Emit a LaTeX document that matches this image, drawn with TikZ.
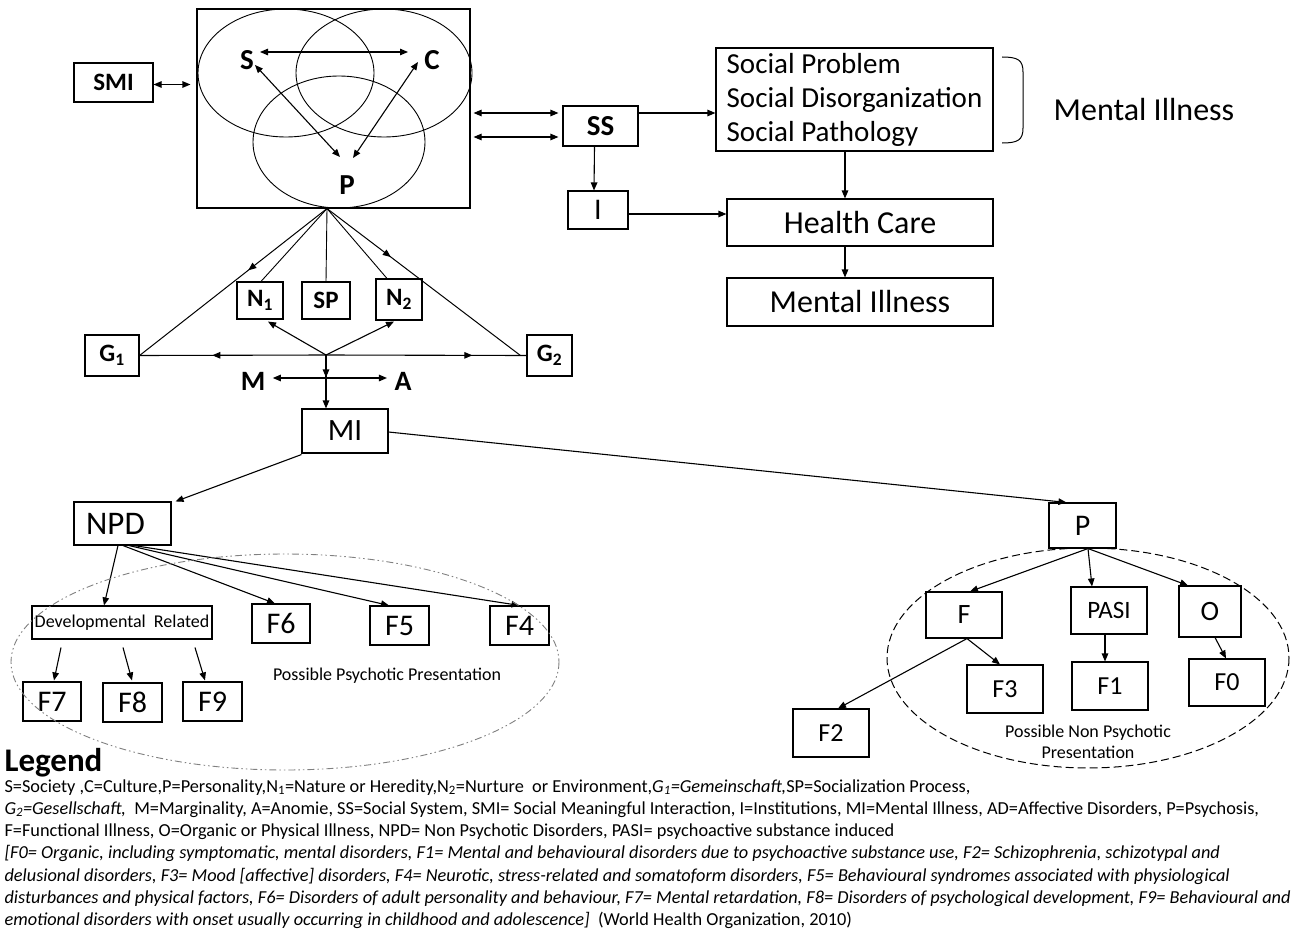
\documentclass[tikz,border=0pt]{standalone}
\usepackage{fontspec}
\setmainfont{Carlito}
\usetikzlibrary{arrows.meta,calc,decorations.markings}
\newcommand{\setfs}[2]{\fontsize{#1pt}{#2pt}\selectfont}
\begin{document}
\begin{tikzpicture}[x=1pt,y=-1pt,line width=1.1pt,
  box/.style={draw,line width=1.1pt,inner sep=0pt,align=center},
  lbl/.style={inner sep=0pt},
  arr/.style={-{Triangle[length=8pt,width=6.5pt]}},
  darr/.style={{Triangle[length=8pt,width=6.5pt]}-{Triangle[length=8pt,width=6.5pt]}},
  midarr/.style={postaction={decorate},decoration={markings,mark=at position #1 with {\arrow{Triangle[length=8pt,width=6.5pt]}}}},
  legline/.style={anchor=base west,inner sep=0pt,font=\setfs{18.3}{21}}]
\useasboundingbox (0,0) rectangle (1292,931);
\fill[white] (0,0) rectangle (1292,931);

% ---------- top-left Venn box ----------
\node[box,minimum width=273pt,minimum height=199pt] (big) at (333.5,108.5) {};
\draw[line width=0.9pt] (286,73) ellipse [x radius=88,y radius=64];
\draw[line width=0.9pt] (384,73) ellipse [x radius=88,y radius=64];
\draw[line width=0.9pt] (339,142) ellipse [x radius=86,y radius=66];
\node[lbl,font=\setfs{29}{32}\bfseries] (S) at (247,60) {S};
\node[lbl,font=\setfs{29}{32}\bfseries] (C) at (432,60) {C};
\node[lbl,font=\setfs{29}{32}\bfseries] (Pv) at (347,185) {P};
\draw[darr] ($(S)+(13,-8)$) -- ($(C)+(-24,-8)$);
\draw[darr] ($(S)+(8,5)$) -- ($(Pv)+(-7,-28)$);
\draw[darr] ($(C)+(-14,2)$) -- ($(Pv)+(6,-27)$);

\node[box,minimum width=79pt,minimum height=39pt,font=\setfs{25}{28}\bfseries] (SMI) at (113.5,82.5) {SMI};
\draw[darr] ($(SMI.east)+(0,2)$) -- ($(big.west|-SMI.east)+(-6,2)$);

% ---------- social system chain ----------
\node[box,minimum width=75pt,minimum height=40pt,font=\setfs{29}{32}\bfseries] (SS) at (600.5,126) {SS};
\draw[darr] ($(big.east|-SS.west)+(3,-13)$) -- ($(SS.west)+(-4,-13)$);
\draw[darr] ($(big.east|-SS.west)+(3,11)$) -- ($(SS.west)+(-4,11)$);
\node[box,minimum width=60pt,minimum height=38pt,font=\setfs{30}{34}] (I) at (598,210) {I};
\draw[arr] ($(SS.south)+(-6,0)$) -- ($(I.north)+(-4,0)$);

\node[box,minimum width=277pt,minimum height=103pt,align=left,font=\setfs{29}{34}] (soc) at (854.5,99.5) {Social Problem\\Social Disorganization\\Social Pathology};
\draw[arr] ($(SS.east)+(0,-13)$) -- ($(soc.west|-SS.east)+(0,-13)$);
\node[box,minimum width=266pt,minimum height=47pt,font=\setfs{32}{36}] (hc) at (860,222.5) {Health Care};
\node[box,minimum width=266pt,minimum height=48pt,font=\setfs{32}{36}] (mib) at (860,302) {Mental Illness};
\draw[arr] ($(soc.south)+(-9.5,0)$) -- ($(hc.north)+(-15,0)$);
\draw[arr] ($(hc.south)+(-15,0)$) -- ($(mib.north)+(-15,0)$);
\draw[arr] ($(I.east)+(0,4)$) -- ($(hc.west|-I.east)+(0,4)$);

\node[lbl,font=\setfs{32}{36}] (mir) at (1144,110) {Mental Illness};
\draw[line width=1pt] (1002,57) .. controls (1018,57) and (1023,60) .. (1023,72) -- (1023,128) .. controls (1023,140) and (1018,143) .. (1002,143);

% ---------- middle part ----------
\coordinate (apex) at ($(big.south)+(-6.5,0)$);
\node[box,minimum width=54pt,minimum height=41pt,font=\setfs{25}{28}\bfseries] (G1) at (112,355.5) {G\textsubscript{1}};
\node[box,minimum width=45pt,minimum height=41pt,font=\setfs{25}{28}\bfseries] (G2) at (549.5,355.5) {G\textsubscript{2}};
\node[box,minimum width=46pt,minimum height=37pt,font=\setfs{25}{28}\bfseries] (N1) at (260,300.5) {N\textsubscript{1}};
\node[box,minimum width=48pt,minimum height=37pt,font=\setfs{25}{28}\bfseries] (SP) at (326,300.5) {SP};
\node[box,minimum width=46pt,minimum height=41pt,font=\setfs{25}{28}\bfseries] (N2) at (399,299.5) {N\textsubscript{2}};
\coordinate (hub) at (326,355);

\draw[line width=1pt,midarr=0.42] (apex) -- (G1.east);
\draw[line width=1pt,midarr=0.33] (apex) -- ($(G2.west)+(-6,0)$);
\draw[line width=0.9pt] (apex) -- ($(N1.north)+(1,0)$);
\draw[line width=0.9pt] (apex) -- (SP.north);
\draw[line width=0.9pt] (apex) -- ($(N2.north)+(-12,0)$);
\draw[midarr=0.61] (hub) -- (G1.east);
\draw[midarr=0.73] (hub) -- (G2.west);
\draw[arr] (hub) -- ($(N1.south)+(8,2)$);
\draw[arr] (hub) -- ($(N2.south)+(-5,1)$);
\node[lbl,font=\setfs{28}{30}\bfseries] (M) at (253,381) {M};
\node[lbl,font=\setfs{28}{30}\bfseries] (A) at (403,381) {A};
\draw[darr] ($(M.east)+(7,-3)$) -- ($(A.west)+(-7,-3)$);

\node[box,minimum width=86pt,minimum height=44pt,font=\setfs{31}{34}] (MI) at (345,431) {MI};
\draw[arr,midarr=0.42] (hub) -- (hub|-MI.north);

% ---------- bottom left: NPD ----------
\node[box,minimum width=97pt,minimum height=43pt,font=\setfs{33}{36}] (NPD) at (122.5,523.5) {NPD\hspace{14pt}};
\draw[arr] ($(MI.south west)+(0,1)$) -- ($(NPD.north east)+(4,0)$);
\node[box,minimum width=180pt,minimum height=33pt,font=\setfs{18}{20}] (dev) at (122,622.5) {Developmental\ \ Related};
\node[box,minimum width=58pt,minimum height=39pt,font=\setfs{30}{34}] (F6) at (281,623.5) {F6};
\node[box,minimum width=59pt,minimum height=39pt,font=\setfs{30}{34}] (F5) at (399.5,625.5) {F5};
\node[box,minimum width=59pt,minimum height=39pt,font=\setfs{30}{34}] (F4) at (519.5,625.5) {F4};
\node[box,minimum width=58pt,minimum height=39pt,font=\setfs{30}{34}] (F7) at (52,701.5) {F7};
\node[box,minimum width=59pt,minimum height=39pt,font=\setfs{30}{34}] (F8) at (132.5,702.5) {F8};
\node[box,minimum width=59pt,minimum height=39pt,font=\setfs{30}{34}] (F9) at (212.5,701.5) {F9};
\draw[arr] ($(NPD.south)+(-4.5,0)$) -- ($(dev.north)+(-18,0)$);
\draw[arr] ($(NPD.south)+(0.5,0)$) -- ($(F6.north)+(-6,0)$);
\draw[arr] ($(NPD.south)+(6.5,0)$) -- ($(F5.north)+(-10.5,0)$);
\draw[arr] ($(NPD.south)+(11.5,0)$) -- (F4.north);
\draw[arr] ($(dev.south)+(-61,8)$) -- ($(F7.north)+(2,-1)$);
\draw[arr] ($(dev.south)+(1,8)$) -- ($(F8.north)+(-0.5,-2)$);
\draw[arr] ($(dev.south)+(73,8)$) -- ($(F9.north)+(-7.5,-1)$);
\node[lbl,font=\setfs{18}{20}] (ppp) at (387,676) {Possible Psychotic Presentation};
\draw[gray,line width=0.9pt,dash pattern=on 7pt off 3pt on 1.5pt off 3pt on 1.5pt off 3pt] (285,662) ellipse [x radius=274,y radius=108];

% ---------- bottom right: P ----------
\node[box,minimum width=67pt,minimum height=45pt,font=\setfs{30}{34}] (P) at (1082.5,525.5) {P};
\draw[arr] ($(MI.east)+(0,1)$) -- ($(P.north west)+(18,0)$);
\node[box,minimum width=76pt,minimum height=46pt,font=\setfs{28}{32}] (F) at (964,615) {F};
\node[box,minimum width=76pt,minimum height=47pt,font=\setfs{25}{30}] (PASI) at (1109,610.5) {PASI};
\node[box,minimum width=62pt,minimum height=51pt,font=\setfs{28}{32}] (O) at (1210,611.5) {O};
\node[box,minimum width=76pt,minimum height=48pt,font=\setfs{26}{30}] (F3) at (1005,689) {F3};
\node[box,minimum width=76pt,minimum height=48pt,font=\setfs{26}{30}] (F1) at (1110,686) {F1};
\node[box,minimum width=76pt,minimum height=47pt,font=\setfs{26}{30}] (F0) at (1227,682.5) {F0};
\node[box,minimum width=76pt,minimum height=48pt,font=\setfs{26}{30}] (F2) at (831,733) {F2};
\draw[arr] ($(P.south)+(5.5,0)$) -- ($(F.north)+(6,0)$);
\draw[arr] ($(P.south)+(5.5,0)$) -- ($(PASI.north)+(-17,0)$);
\draw[arr] ($(P.south)+(5.5,0)$) -- ($(O.north)+(-22,0)$);
\draw[arr] ($(F.south)+(3,0)$) -- ($(F3.north)+(-5,0)$);
\draw[arr] ($(F.south)+(3,0)$) -- ($(F2.north)+(7,0)$);
\draw[arr] ($(PASI.south)+(-4,0)$) -- ($(F1.north)+(-5,0)$);
\draw[arr] ($(O.south)+(5,0)$) -- ($(F0.north)+(-1,0)$);
\node[lbl,align=center,font=\setfs{18}{21}] (npp) at (1088,742) {Possible Non Psychotic\\Presentation};
\draw[line width=1pt,dash pattern=on 8pt off 4pt] (1088,658) ellipse [x radius=201,y radius=110];

% ---------- legend ----------
\node[anchor=base west,inner sep=0pt,font=\setfs{33}{34}\bfseries] (leg) at (4,771) {Legend};
\node[legline] (l1) at (4,792) {S=Society ,C=Culture,P=Personality,N\textsubscript{1}=Nature or Heredity,N\textsubscript{2}=Nurture\ \ or Environment,\textit{G\textsubscript{1}=Gemeinschaft,}SP=Socialization Process,};
\node[legline] (l2) at (4,814.3) {\textit{G\textsubscript{2}=Gesellschaft,}\ \ M=Marginality, A=Anomie, SS=Social System, SMI= Social Meaningful Interaction, I=Institutions, MI=Mental Illness, AD=Affective Disorders, P=Psychosis,};
\node[legline] (l3) at (4,836.6) {F=Functional Illness, O=Organic or Physical Illness, NPD= Non Psychotic Disorders, PASI= psychoactive substance induced};
\node[legline] (l4) at (4,858.9) {\itshape [F0= Organic, including symptomatic, mental disorders, F1= Mental and behavioural disorders due to psychoactive substance use, F2= Schizophrenia, schizotypal and};
\node[legline] (l5) at (4,881.2) {\itshape delusional disorders, F3= Mood [affective] disorders, F4= Neurotic, stress-related and somatoform disorders, F5= Behavioural syndromes associated with physiological};
\node[legline] (l6) at (4,903.5) {\itshape disturbances and physical factors, F6= Disorders of adult personality and behaviour, F7= Mental retardation, F8= Disorders of psychological development, F9= Behavioural and};
\node[legline] (l7) at (4,925.8) {\textit{emotional disorders with onset usually occurring in childhood and adolescence]}\ \ (World Health Organization, 2010)};
\end{tikzpicture}
\end{document}
